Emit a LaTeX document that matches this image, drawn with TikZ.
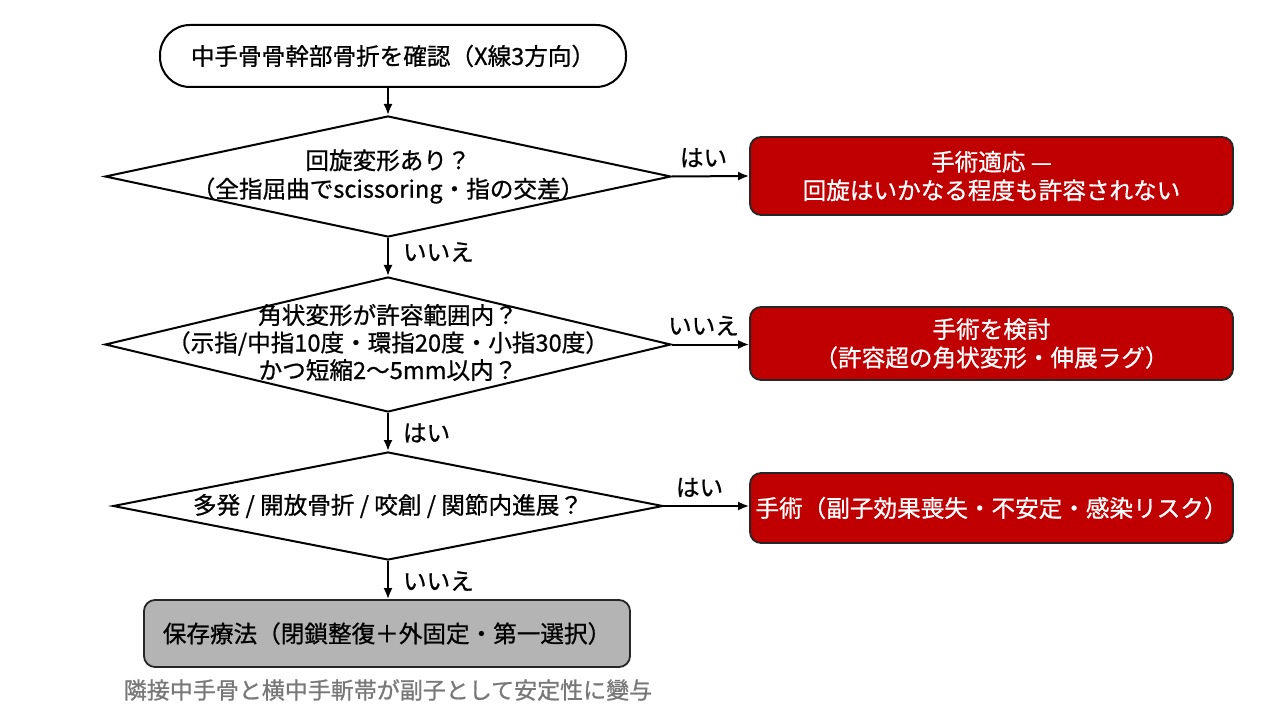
\documentclass[tikz,border=0pt]{standalone}
\usepackage{fontspec}
\setmainfont{Noto Sans CJK JP}[FakeBold=0.8]
\usetikzlibrary{arrows.meta, positioning, shapes.geometric}

\definecolor{surgred}{RGB}{192,0,0}
\definecolor{consgray}{RGB}{180,180,180}
\definecolor{notegray}{RGB}{120,120,120}

\begin{document}
\begin{tikzpicture}[x=1pt, y=-1pt,
  every node/.style={font=\fontsize{23.6}{28.5}\selectfont},
  startbox/.style={draw, line width=2pt, rounded corners=30pt, minimum width=466pt, minimum height=62pt},
  decision/.style={draw, diamond, line width=2pt, inner sep=0pt},
  qtext/.style={align=center, inner sep=0pt},
  surgbox/.style={draw=black!85, fill=surgred, text=white, line width=1.8pt, rounded corners=11pt, minimum width=483pt, align=center},
  consbox/.style={draw=black!85, fill=consgray, line width=1.8pt, rounded corners=11pt, minimum width=486pt, minimum height=67pt},
  flow/.style={-{Latex[length=11pt, width=9pt]}, line width=2pt},
  answer/.style={inner sep=0pt}
]

% Canvas
\useasboundingbox (0,0) rectangle (1280,714);
\fill[white] (0,0) rectangle (1280,714);

% Start
\node[startbox] (start) at (393,56) {中手骨骨幹部骨折を確認（X線3方向）};

% Decisions
\node[decision, minimum width=566pt, minimum height=121pt] (rot) at (388,176.5) {};
\node[qtext] at (rot) {回旋変形あり？\\（全指屈曲でscissoring・指の交差）};

\node[decision, minimum width=566pt, minimum height=135pt] (ang) at (388,344.5) {};
\node[qtext, font=\fontsize{23.6}{27.5}\selectfont] at ([yshift=2pt]ang) {角状変形が許容範囲内？\\（示指/中指10度・環指20度・小指30度）\\かつ短縮2〜5mm以内？};

\node[decision, minimum width=550pt, minimum height=108pt] (risk) at (388,506) {};
\node[qtext] at (risk) {多発 / 開放骨折 / 咬創 / 関節内進展？};

% Outcomes
\node[surgbox, minimum height=78pt] (surg1) at (991.5,176) {手術適応 —\\回旋はいかなる程度も許容されない};
\node[surgbox, minimum height=73pt] (surg2) at (991.5,343.5) {手術を検討\\（許容超の角状変形・伸展ラグ）};
\node[surgbox, minimum height=70pt] (surg3) at (991.5,508) {手術（副子効果喪失・不安定・感染リスク）};

\node[consbox] (cons) at (387,633.5) {保存療法（閉鎖整復＋外固定・第一選択）};
\node[text=notegray, font=\fontsize{23}{26}\selectfont] (note) at (388,690) {隣接中手骨と横中手斬帯が副子として安定性に變与};

% Main flow
\draw[flow] (start.south -| rot.north) -- (rot.north);
\draw[flow] (rot.south) -- (ang.north) node[answer, midway, right=14pt, yshift=5pt] {いいえ};
\draw[flow] (ang.south) -- (risk.north) node[answer, midway, right=14pt, yshift=-1pt] {はい};
\draw[flow] (risk.south) -- (cons.north -| risk.south) node[answer, midway, right=14pt, yshift=-1pt] {いいえ};

% Branches to surgery
\draw[flow] (rot.east) -- (surg1.west) node[answer, midway, above=8pt, xshift=-7pt] {はい};
\draw[flow] (ang.east) -- (surg2.west |- ang.east) node[answer, midway, above=8pt, xshift=-7pt] {いいえ};
\draw[flow] (risk.east) -- (surg3.west |- risk.east) node[answer, midway, above=8pt, xshift=-7pt] {はい};

\end{tikzpicture}
\end{document}
